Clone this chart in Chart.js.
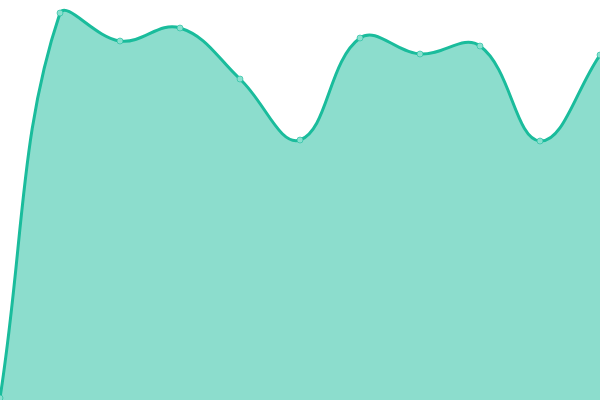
<!DOCTYPE html>
<html>
<head>
<meta charset="utf-8">
<script src="https://cdn.jsdelivr.net/npm/chart.js@4/dist/chart.umd.min.js"></script>
<style>
  html, body { margin: 0; padding: 0; background: #fff; }
  #wrap { width: 600px; height: 400px; }
</style>
</head>
<body>
<div id="wrap"><canvas id="chart"></canvas></div>
<script>
// ── DATA ───────────────────────────────────────────────────────────────
const labels = ['1', '2', '3', '4', '5', '6', '7', '8', '9', '10', '11'];
const values = [2, 387, 359, 372, 321, 260, 362, 346, 354, 259, 345];

const teal = '#1abc9c';

new Chart(document.getElementById('chart').getContext('2d'), {
  type: 'line',
  data: {
    labels: labels,
    datasets: [{
      data: values,
      borderColor: teal,
      backgroundColor: 'rgba(26,188,156,0.5)',
      borderWidth: 3,
      pointRadius: 3,
      pointBorderWidth: 1,
      pointBackgroundColor: 'rgba(138,224,207,1)',
      pointBorderColor: 'rgba(26,188,156,0.6)',
      fill: true,
      tension: 0.4
    }]
  },
  options: {
    responsive: true, maintainAspectRatio: false, animation: false,
    layout: { padding: 0, autoPadding: false },
    plugins: { legend: { display: false }, tooltip: { enabled: false } },
    scales: {
      x: { display: false, offset: false },
      y: { display: false, min: 0, max: 400 }
    }
  }
});
</script>
</body>
</html>
